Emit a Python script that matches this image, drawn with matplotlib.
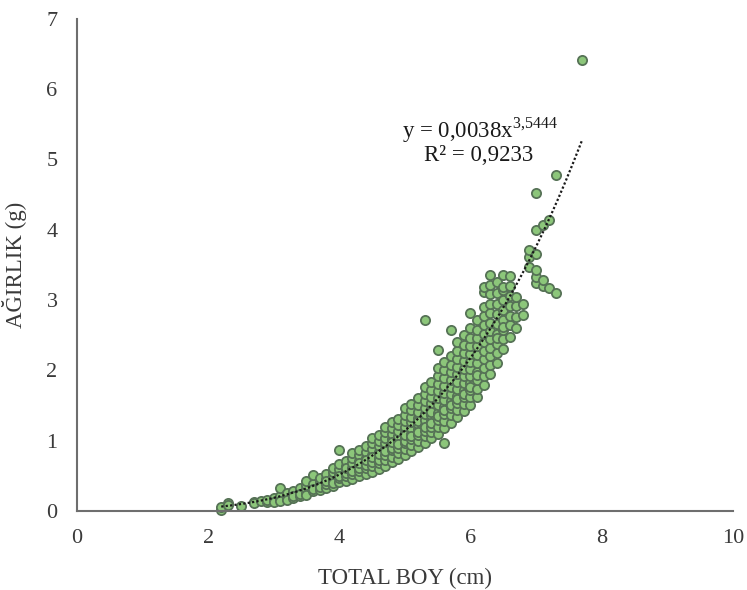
import matplotlib.pyplot as plt
import numpy as np

plt.rcParams['font.family'] = 'Liberation Serif'
plt.rcParams['mathtext.fontset'] = 'custom'
plt.rcParams['mathtext.rm'] = 'Liberation Serif'

# total length classes (cm) and the weights (g) measured at each one
boy = [2.2, 2.3, 2.5, 2.7, 2.8, 2.9, 3.0, 3.1, 3.2, 3.3, 3.4, 3.5, 3.6, 3.7,
       3.8, 3.9, 4.0, 4.1, 4.2, 4.3, 4.4, 4.5, 4.6, 4.7, 4.8, 4.9, 5.0, 5.1,
       5.2, 5.3, 5.4, 5.5, 5.6, 5.7, 5.8, 5.9, 6.0, 6.1, 6.2, 6.3, 6.4, 6.5,
       6.6, 6.7, 6.8, 6.9, 7.0, 7.1, 7.2, 7.3, 7.7]

agirlik = [
    [0.02, 0.06],
    [0.12, 0.09],
    [0.07],
    [0.13, 0.12],
    [0.14],
    [0.13, 0.15],
    [0.15, 0.19, 0.13],
    [0.17, 0.21, 0.33, 0.14],
    [0.18, 0.22, 0.26, 0.15],
    [0.19, 0.24, 0.29, 0.21],
    [0.21, 0.27, 0.32, 0.24],
    [0.26, 0.31, 0.37, 0.43, 0.22],
    [0.28, 0.34, 0.39, 0.51, 0.31],
    [0.30, 0.37, 0.41, 0.47, 0.34],
    [0.33, 0.39, 0.46, 0.52, 0.42],
    [0.36, 0.43, 0.49, 0.56, 0.61, 0.40],
    [0.41, 0.47, 0.53, 0.60, 0.67, 0.86, 0.50],
    [0.43, 0.50, 0.57, 0.64, 0.71, 0.54, 0.61],
    [0.46, 0.53, 0.61, 0.68, 0.75, 0.82, 0.57],
    [0.49, 0.57, 0.64, 0.71, 0.79, 0.86, 0.61, 0.68],
    [0.53, 0.61, 0.68, 0.76, 0.84, 0.92, 0.65, 0.72],
    [0.56, 0.64, 0.72, 0.80, 0.88, 0.96, 1.04, 0.69, 0.77],
    [0.60, 0.68, 0.76, 0.84, 0.92, 1.00, 1.08, 0.73, 0.81],
    [0.64, 0.72, 0.80, 0.88, 0.96, 1.04, 1.12, 1.19, 0.85],
    [0.69, 0.77, 0.86, 0.94, 1.02, 1.10, 1.18, 1.26, 0.90, 0.98],
    [0.74, 0.82, 0.90, 0.98, 1.06, 1.14, 1.22, 1.31, 0.95],
    [0.79, 0.88, 0.96, 1.04, 1.12, 1.20, 1.28, 1.37, 1.46, 1.00, 1.08],
    [0.85, 0.94, 1.02, 1.10, 1.18, 1.26, 1.34, 1.43, 1.52, 1.06],
    [0.91, 1.00, 1.08, 1.16, 1.24, 1.32, 1.41, 1.50, 1.60, 1.13, 1.28],
    [0.97, 1.06, 1.14, 1.22, 1.30, 1.38, 1.47, 1.56, 1.66, 1.76, 2.72, 1.19],
    [1.04, 1.12, 1.20, 1.28, 1.36, 1.45, 1.53, 1.62, 1.72, 1.84, 1.25, 1.41],
    [1.10, 1.20, 1.30, 1.40, 1.50, 1.60, 1.70, 1.81, 1.92, 2.04, 2.29, 1.35],
    [0.97, 1.18, 1.28, 1.38, 1.48, 1.58, 1.68, 1.78, 1.89, 2.00, 2.12, 1.43],
    [1.25, 1.36, 1.46, 1.56, 1.66, 1.76, 1.86, 1.97, 2.08, 2.20, 2.57, 1.51],
    [1.33, 1.44, 1.54, 1.64, 1.74, 1.84, 1.95, 2.05, 2.16, 2.28, 2.41, 1.59],
    [1.42, 1.52, 1.62, 1.72, 1.82, 1.92, 2.02, 2.13, 2.24, 2.36, 2.50, 1.67],
    [1.51, 1.62, 1.72, 1.82, 1.92, 2.02, 2.12, 2.23, 2.34, 2.46, 2.60, 2.82, 1.77],
    [1.62, 1.74, 1.86, 1.98, 2.10, 2.22, 2.34, 2.46, 2.58, 2.72, 1.93],
    [1.79, 1.92, 2.04, 2.16, 2.28, 2.40, 2.52, 2.64, 2.77, 2.90, 3.12, 3.19],
    [1.95, 2.08, 2.20, 2.32, 2.44, 2.56, 2.68, 2.81, 2.94, 3.08, 3.36, 3.21],
    [2.10, 2.24, 2.38, 2.52, 2.66, 2.80, 2.94, 3.10, 3.26, 2.46],
    [2.30, 2.44, 2.58, 2.72, 2.86, 3.00, 3.14, 3.36, 3.19, 2.62],
    [2.48, 2.64, 2.78, 2.92, 3.06, 3.20, 3.34],
    [2.60, 2.76, 2.92, 3.05],
    [2.79, 2.94],
    [3.47, 3.61, 3.71],
    [3.24, 3.33, 3.43, 3.65, 4.00, 4.52],
    [3.20, 3.28, 4.07],
    [3.17, 4.14],
    [3.10, 4.78],
    [6.42],
]

# power trend line W = a * L^b
a = 0.0038
b = 3.5444
r2 = 0.9233

x = []
y = []
for L, ws in zip(boy, agirlik):
    for w in ws:
        x.append(L)
        y.append(w)

fig = plt.figure(figsize=(7.47, 5.9), dpi=100)
ax = fig.add_axes([0.103, 0.134, 0.878, 0.834])

ax.scatter(x, y, s=44, facecolor='#8cc67a', edgecolor='#567256',
           linewidths=1.3, zorder=2, clip_on=False)

xt = np.linspace(min(x), max(x), 200)
ax.plot(xt, a * xt ** b, color='#1a1a1a', linestyle=(0, (1, 1)),
        linewidth=1.6, zorder=3)

ax.text(6.15, 5.42, 'y = 0,0038x$^{\\mathrm{3{,}5444}}$', ha='center',
        va='center', fontsize=16.5, color='#1a1a1a')
ax.text(6.12, 5.06, 'R² = 0,9233', ha='center', va='center',
        fontsize=16.5, color='#1a1a1a')

ax.set_xlim(0, 10)
ax.set_ylim(0, 7)
ax.set_xticks([0, 2, 4, 6, 8, 10])
ax.set_yticks(range(8))
ax.tick_params(length=0, labelsize=16, labelcolor='#3a3a3a', pad=14)
ax.tick_params(axis='x', pad=13)

for s in ['top', 'right']:
    ax.spines[s].set_visible(False)
for s in ['left', 'bottom']:
    ax.spines[s].set_color('#6e6e6e')
    ax.spines[s].set_linewidth(1.5)

ax.set_xlabel('TOTAL BOY (cm)', fontsize=16.5, color='#3a3a3a', labelpad=14)
ax.set_ylabel('AĞIRLIK (g)', fontsize=16.5, color='#3a3a3a', labelpad=14)

fig.savefig('out.png', dpi=100)
